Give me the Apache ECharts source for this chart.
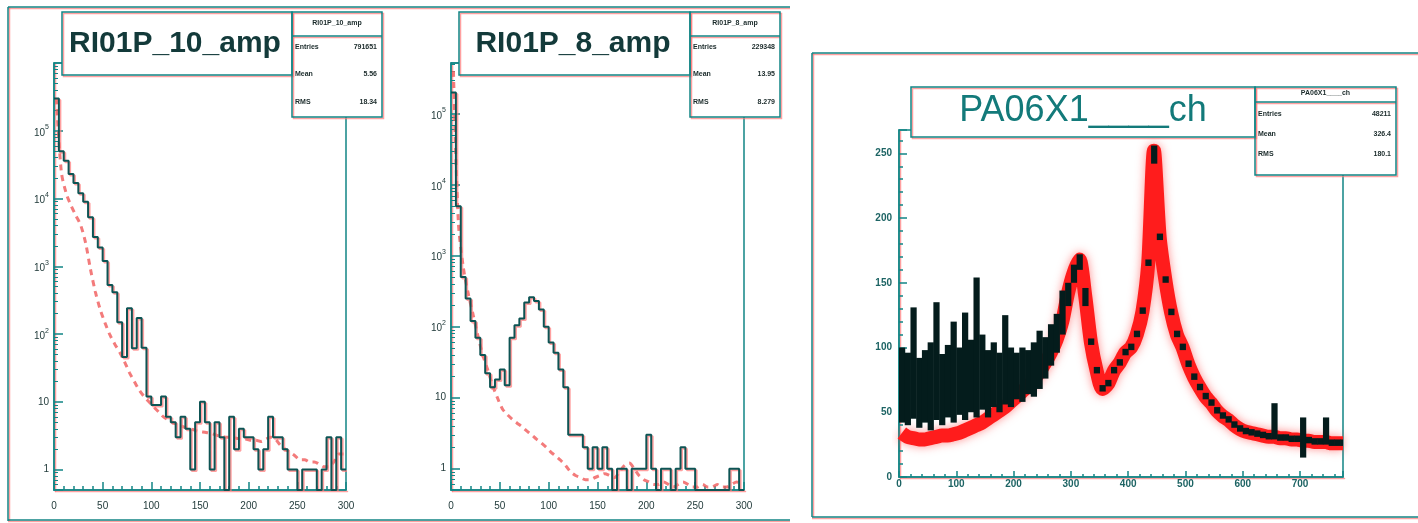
<!DOCTYPE html>
<html>
<head>
<meta charset="utf-8">
<script src="https://cdn.jsdelivr.net/npm/echarts@6/dist/echarts.min.js"></script>
<style>
html,body{margin:0;padding:0;background:#fff;}
#main{width:1418px;height:523px;}
</style>
</head>
<body>
<div id="main"></div>
<script>
// histogram contents, bin width 5 over 0..300
var ampBinWidth = 5;
var amp10Data = [300000, 50000, 36000, 23000, 17000, 12000, 9000, 5300, 2700, 1900,
  1200, 530, 415, 150, 46, 240, 62, 172, 63, 12,
  9, 9, 12, 6, 5, 3, 6, 4, 1, 5,
  10, 5, 1, 5, 3, 0, 6, 2, 4, 3,
  3, 2, 1, 2, 6, 3, 3, 2, 1, 1,
  0, 1, 1, 1, 0, 1, 3, 0, 3, 1];
var amp10Ref = [300000, 25000, 12000, 7900, 5600, 4000, 2200, 900, 420, 230,
  145, 97, 71, 54, 39, 27, 20, 15, 12, 10,
  8.4, 7.1, 6, 5.4, 4.9, 4.6, 4.3, 4, 3.9, 3.7,
  3.6, 3.5, 3.4, 3.2, 3.1, 3, 3, 2.9, 2.8, 2.8,
  2.7, 2.7, 2.6, 2.8, 3, 2.8, 2.3, 2, 1.8, 1.6,
  1.4, 1.4, 1.3, 1.3, 1.2, 1.1, 1.1, 1.3, 1.7, 1.7];
var amp8Data = [200000, 5000, 500, 250, 120, 70, 40, 22, 14, 18,
  25, 15, 70, 105, 130, 220, 260, 230, 175, 100,
  60, 43, 25, 14, 3, 3, 3, 2, 1, 2,
  1, 2, 1, 0, 1, 1, 0, 1, 1, 1,
  3, 1, 0, 1, 1, 0, 1, 2, 1, 1,
  0, 0, 0, 0, 0, 0, 0, 1, 1, 0];
var amp8Ref = [400000, 3000, 700, 300, 150, 75, 40, 25, 15, 10,
  7, 5.8, 5, 4.4, 3.9, 3.4, 3, 2.6, 2.3, 2,
  1.7, 1.5, 1.3, 1.1, 0.9, 0.8, 0.75, 0.7, 0.7, 0.75,
  0.8, 0.85, 0.8, 0.75, 0.9, 1.1, 1.2, 1, 0.8, 0.7,
  0.65, 0.6, 0.6, 0.65, 0.6, 0.55, 0.6, 0.65, 0.6, 0.55,
  0.55, 0.6, 0.55, 0.55, 0.6, 0.55, 0.55, 0.6, 0.65, 0.6];

// PA06X1 channel spectrum, bin width 10 over 0..780
var chBinWidth = 10;
var chRed = [34, 31, 30, 29, 29, 30, 31, 32, 32, 33,
  34, 36, 38, 40, 42, 45, 48, 51, 54, 58,
  62, 66, 70, 75, 81, 88, 96, 106, 120, 142,
  158, 168, 140, 104, 82, 68, 72, 82, 88, 96,
  100, 110, 128, 165, 252, 185, 152, 127, 110, 100,
  87, 77, 69, 62, 57, 51, 47, 44, 40, 37,
  35, 34, 33, 32, 31, 31, 30, 30, 29, 29,
  28, 28, 27, 27, 27, 26, 26, 26];
// black histogram: lower and upper edge of its fluctuation in each bin
var chBlackLow = [42, 40, 45, 38, 42, 36, 44, 40, 46, 42,
  48, 44, 50, 46, 52, 46, 54, 50, 56, 54,
  60, 58, 64, 62, 68, 76, 86, 96, 110, 132,
  150, 160, 132, 102, 80, 66, 70, 80, 86, 94,
  98, 108, 126, 163, 242, 183, 150, 125, 108, 98,
  85, 75, 67, 60, 55, 49, 45, 42, 38, 35,
  33, 32, 31, 30, 29, 29, 28, 28, 27, 27,
  15, 26, 25, 25, 25, 24, 24, 24];
var chBlackHigh = [100, 96, 131, 92, 98, 104, 135, 95, 102, 120,
  100, 127, 106, 154, 110, 98, 104, 96, 125, 100,
  96, 100, 98, 104, 113, 108, 118, 126, 144, 150,
  164, 172, 146, 107, 85, 71, 75, 85, 91, 99,
  103, 113, 131, 168, 256, 188, 155, 130, 113, 103,
  90, 80, 72, 65, 60, 54, 50, 47, 43, 40,
  38, 37, 36, 35, 34, 57, 33, 33, 32, 32,
  46, 31, 30, 30, 46, 29, 29, 29];

var TEAL = '#128585';
var PINK = 'rgba(255,120,120,0.7)';
var DARK = '#0d5454';
var LBL = '#233c3c';

function stepData(vals, w, floor) {
  var d = [];
  for (var i = 0; i < vals.length; i++) d.push([i * w, Math.max(vals[i], floor)]);
  d.push([vals.length * w, Math.max(vals[vals.length - 1], floor)]);
  return d;
}
function centerData(vals, w) {
  return vals.map(function (v, i) { return [(i + 0.5) * w, v]; });
}

function logLabel(v) {
  var l = Math.log10(v), e = Math.round(l);
  if (Math.abs(l - e) > 1e-6 || e < 0 || e > 5) return '';
  if (e === 0) return '1';
  if (e === 1) return '10';
  return '{b|10}{s|' + e + '}';
}

var pinkShadow = {shadowColor: PINK, shadowOffsetX: 1.5, shadowOffsetY: 1.5, shadowBlur: 0};

function xAxisAmp(idx) {
  return {
    gridIndex: idx, type: 'value', min: 0, max: 300, interval: 50,
    axisLine: {show: true, lineStyle: Object.assign({color: TEAL, width: 1.5}, pinkShadow)},
    axisTick: {show: true, inside: true, length: 8, lineStyle: {color: TEAL, width: 1.5}},
    minorTick: {show: true, splitNumber: 5, length: 4, lineStyle: {color: TEAL, width: 1.5}},
    axisLabel: {color: LBL, fontSize: 10, margin: 11, fontFamily: 'Liberation Sans',
      textShadowColor: PINK, textShadowOffsetX: 1, textShadowOffsetY: 1},
    splitLine: {show: false}
  };
}
function yAxisLog(idx, max) {
  return {
    gridIndex: idx, type: 'log', logBase: 10, min: 0.5, max: max,
    axisLine: {show: true, lineStyle: Object.assign({color: TEAL, width: 1.5}, pinkShadow)},
    axisTick: {show: true, inside: true, length: 9, lineStyle: {color: TEAL, width: 1.5}},
    minorTick: {show: true, splitNumber: 9, length: 4, lineStyle: {color: TEAL, width: 1}},
    axisLabel: {color: LBL, fontSize: 10, margin: 5, fontFamily: 'Liberation Sans',
      formatter: logLabel,
      textShadowColor: PINK, textShadowOffsetX: 1, textShadowOffsetY: 1,
      rich: {
        b: {fontSize: 10, color: LBL, lineHeight: 14, verticalAlign: 'bottom'},
        s: {fontSize: 7, color: LBL, lineHeight: 14, verticalAlign: 'top'}
      }},
    splitLine: {show: false}
  };
}

function box(x, y, w, h) {
  return [
    {type: 'rect', z: 100, shape: {x: x, y: y, width: w, height: h}, style: {fill: '#fff'}},
    {type: 'rect', z: 101, shape: {x: x + 1.5, y: y + 1.5, width: w, height: h}, style: {fill: 'transparent', stroke: PINK, lineWidth: 1.5}},
    {type: 'rect', z: 102, shape: {x: x, y: y, width: w, height: h}, style: {fill: 'transparent', stroke: TEAL, lineWidth: 1.5}}
  ];
}
function hline(x1, x2, y) {
  return [
    {type: 'line', z: 101, shape: {x1: x1, y1: y + 1.5, x2: x2, y2: y + 1.5}, style: {stroke: PINK, lineWidth: 1.5}},
    {type: 'line', z: 102, shape: {x1: x1, y1: y, x2: x2, y2: y}, style: {stroke: TEAL, lineWidth: 1.5}}
  ];
}
function vline(x, y1, y2) {
  return [
    {type: 'line', z: 101, shape: {x1: x + 1.5, y1: y1, x2: x + 1.5, y2: y2}, style: {stroke: PINK, lineWidth: 1.5}},
    {type: 'line', z: 102, shape: {x1: x, y1: y1, x2: x, y2: y2}, style: {stroke: TEAL, lineWidth: 1.5}}
  ];
}
function txt(s, x, y, font, color, align) {
  return {type: 'text', z: 110, style: {text: s, x: x, y: y, font: font, fill: color,
    align: align || 'center', verticalAlign: 'middle',
    textAlign: align || 'center', textVerticalAlign: 'middle',
    shadowColor: PINK, shadowOffsetX: 1.5, shadowOffsetY: 1}};
}

// stats box: header height, first row offset, row gap
function statBox(x, y, w, h, name, rows, headH, first, gap) {
  var els = box(x, y, w, h).concat(hline(x, x + w, y + headH));
  var f = 'bold 7px "Liberation Sans"';
  els.push(txt(name, x + w / 2, y + headH / 2 - 1, f, '#1a2a2a'));
  rows.forEach(function (r, i) {
    els.push(txt(r[0], x + 3, y + first + i * gap, f, '#1a2a2a', 'left'));
    els.push(txt(r[1], x + w - 5, y + first + i * gap, f, '#1a2a2a', 'right'));
  });
  return els;
}

var graphics = []
  .concat(hline(8, 790, 7), vline(8, 7, 521), hline(8, 790, 520))
  .concat(box(62, 12, 230, 63))
  .concat(statBox(292, 12, 90, 105, 'RI01P_10_amp', [['Entries', '791651'], ['Mean', '5.56'], ['RMS', '18.34']], 24, 35, 27.5))
  .concat(box(459, 12, 231, 63))
  .concat(statBox(690, 12, 90, 105, 'RI01P_8_amp', [['Entries', '229348'], ['Mean', '13.95'], ['RMS', '8.279']], 24, 35, 27.5))
  .concat(hline(812, 1430, 53), vline(812, 53, 517), hline(812, 1430, 517))
  .concat(box(911, 87, 344, 50))
  .concat(statBox(1255, 87, 141, 88, 'PA06X1____ch', [['Entries', '48211'], ['Mean', '326.4'], ['RMS', '180.1']], 15, 27, 20));
graphics.push(txt('RI01P_10_amp', 175, 44, 'bold 30px "Liberation Sans"', '#133a3a'));
graphics.push(txt('RI01P_8_amp', 573, 44, 'bold 30px "Liberation Sans"', '#133a3a'));
graphics.push(txt('PA06X1____ch', 1083, 111, '36px "Liberation Sans"', '#137a7a'));

var chBand = chBlackLow.map(function (lo, i) { return [i * chBinWidth, lo, chBlackHigh[i]]; });

function bandItem(params, api) {
  var x0 = api.value(0);
  var a = api.coord([x0, api.value(2)]);
  var b = api.coord([x0 + chBinWidth, api.value(1)]);
  var r = echarts.graphic.clipRectByRect(
    {x: a[0], y: a[1], width: b[0] - a[0] + 0.5, height: b[1] - a[1]},
    {x: params.coordSys.x, y: params.coordSys.y, width: params.coordSys.width, height: params.coordSys.height});
  if (!r) return;
  return {type: 'rect', shape: r, style: {fill: '#041c1c'}};
}

var chart = echarts.init(document.getElementById('main'));
var option = {
  animation: false,
  backgroundColor: '#fff',
  grid: [
    {left: 54, top: 63, width: 292, height: 427, show: true, borderColor: TEAL, borderWidth: 1.5},
    {left: 451, top: 63, width: 293, height: 427, show: true, borderColor: TEAL, borderWidth: 1.5},
    {left: 899, top: 130, width: 444, height: 347, show: true, borderColor: TEAL, borderWidth: 1.5}
  ],
  xAxis: [
    xAxisAmp(0), xAxisAmp(1),
    {
      gridIndex: 2, type: 'value', min: 0, max: 775, interval: 100,
      axisLine: {show: true, lineStyle: Object.assign({color: TEAL, width: 1.5}, pinkShadow)},
      axisTick: {show: true, inside: true, length: 6, lineStyle: {color: TEAL, width: 1.5}},
      minorTick: {show: true, splitNumber: 5, length: 3, lineStyle: {color: TEAL, width: 1.5}},
      axisLabel: {color: '#1d6464', fontSize: 10, fontWeight: 'bold', margin: 2, showMaxLabel: false,
        fontFamily: 'Liberation Sans', textShadowColor: PINK, textShadowOffsetX: 1, textShadowOffsetY: 1},
      splitLine: {show: false}
    }
  ],
  yAxis: [
    yAxisLog(0, 1000000), yAxisLog(1, 520000),
    {
      gridIndex: 2, type: 'value', min: 0, max: 268, interval: 50,
      axisLine: {show: true, lineStyle: Object.assign({color: TEAL, width: 1.5}, pinkShadow)},
      axisTick: {show: true, inside: true, length: 8, lineStyle: {color: TEAL, width: 1.5}},
      minorTick: {show: true, splitNumber: 5, length: 4, lineStyle: {color: TEAL, width: 1.5}},
      axisLabel: {color: '#1d6464', fontSize: 10, fontWeight: 'bold', margin: 7, showMaxLabel: false,
        fontFamily: 'Liberation Sans', textShadowColor: PINK, textShadowOffsetX: 1, textShadowOffsetY: 1},
      splitLine: {show: false}
    }
  ],
  graphic: {elements: graphics},
  series: [
    {type: 'line', xAxisIndex: 0, yAxisIndex: 0, smooth: 0.3, showSymbol: false, z: 2,
      data: centerData(amp10Ref, ampBinWidth),
      lineStyle: {color: 'rgba(240,90,90,0.8)', width: 3, type: [6, 5]}},
    {type: 'line', xAxisIndex: 0, yAxisIndex: 0, step: 'end', showSymbol: false, z: 3,
      data: stepData(amp10Data, ampBinWidth, 0.5),
      lineStyle: Object.assign({color: DARK, width: 2}, pinkShadow)},
    {type: 'line', xAxisIndex: 1, yAxisIndex: 1, smooth: 0.3, showSymbol: false, z: 2,
      data: centerData(amp8Ref, ampBinWidth),
      lineStyle: {color: 'rgba(240,90,90,0.8)', width: 3, type: [6, 5]}},
    {type: 'line', xAxisIndex: 1, yAxisIndex: 1, step: 'end', showSymbol: false, z: 3,
      data: stepData(amp8Data, ampBinWidth, 0.5),
      lineStyle: Object.assign({color: DARK, width: 2}, pinkShadow)},
    {type: 'line', xAxisIndex: 2, yAxisIndex: 2, smooth: 0.25, showSymbol: false, z: 2,
      data: centerData(chRed, chBinWidth),
      lineStyle: {color: '#ff1c1c', width: 14, shadowColor: 'rgba(255,70,70,0.6)', shadowBlur: 10}},
    {type: 'custom', xAxisIndex: 2, yAxisIndex: 2, z: 3, renderItem: bandItem,
      encode: {x: 0, y: [1, 2]}, data: chBand}
  ]
};
chart.setOption(option);
</script>
</body>
</html>
